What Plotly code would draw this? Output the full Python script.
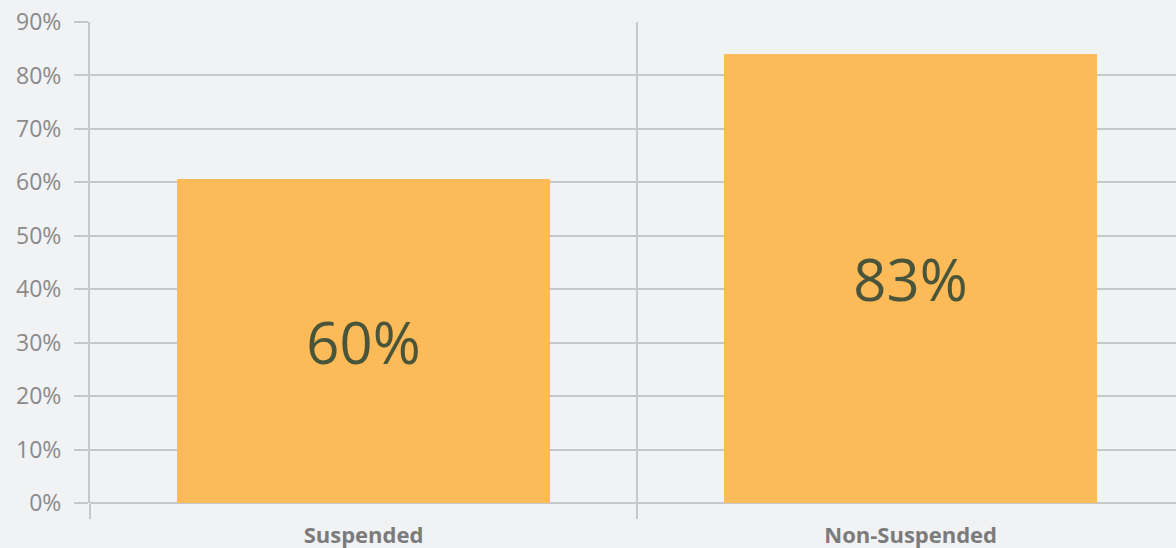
import plotly.graph_objects as go

categories = ["Suspended", "Non-Suspended"]
bar_values = [60.6, 84.0]
bar_labels = ["60%", "83%"]
y_ticks = [0, 10, 20, 30, 40, 50, 60, 70, 80, 90]
y_tick_labels = ["0%", "10%", "20%", "30%", "40%", "50%", "60%", "70%", "80%", "90%"]

BG = "#f1f2f4"
GRID = "#c6c7c9"

fig = go.Figure(go.Bar(
    x=categories, y=bar_values, text=bar_labels,
    width=0.682, marker=dict(color="#fdba58", line=dict(width=0)),
    textposition="inside", insidetextanchor="middle",
    textfont=dict(family="Open Sans", size=58, color="#48553a"),
    textangle=0, hoverinfo="skip",
))

fig.update_layout(
    width=1176, height=548,
    margin=dict(l=90, r=0, t=22, b=45),
    paper_bgcolor=BG, plot_bgcolor=BG,
    showlegend=False, bargap=0,
)
fig.update_xaxes(
    type="category", range=[-0.5, 1.485],
    tickson="boundaries", ticks="outside", ticklen=15, tickwidth=2, tickcolor=GRID,
    showgrid=True, gridcolor=GRID, gridwidth=2,
    showline=False, zeroline=False,
    tickfont=dict(family="Open Sans", size=22, color="#7b7b7b", weight="bold"),
    ticklabelstandoff=17,
)
fig.update_yaxes(
    range=[0, 90], tickvals=y_ticks, ticktext=y_tick_labels,
    ticks="outside", ticklen=14, tickwidth=2, tickcolor=GRID,
    showgrid=True, gridcolor=GRID, gridwidth=2,
    zeroline=True, zerolinecolor=GRID, zerolinewidth=2,
    showline=True, linecolor=GRID, linewidth=2,
    tickfont=dict(family="Open Sans", size=23, color="#8a8a8a"),
    ticklabelstandoff=8,
)
fig.write_html("out.html")
